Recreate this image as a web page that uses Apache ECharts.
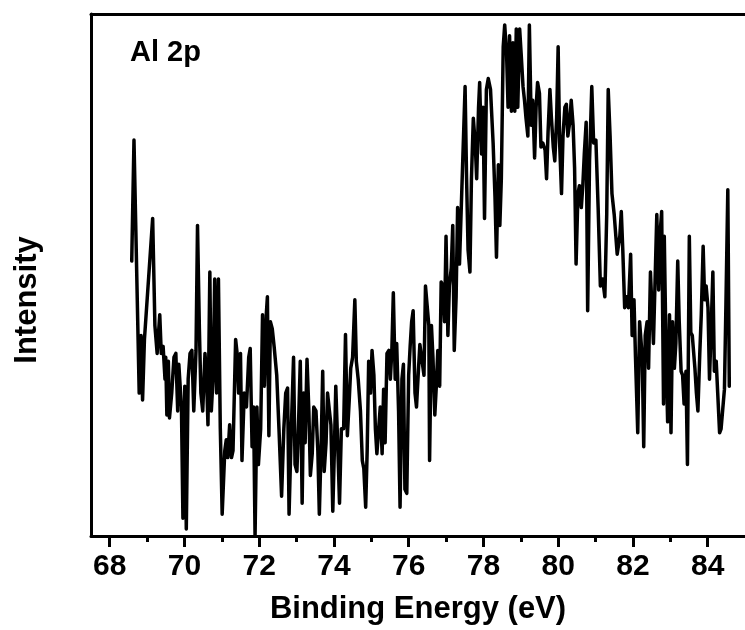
<!DOCTYPE html>
<html><head><meta charset="utf-8">
<script src="https://cdn.jsdelivr.net/npm/echarts@6/dist/echarts.min.js"></script>
<style>html,body{margin:0;padding:0;background:#fff}#c{width:745px;height:630px}</style>
</head><body><div id="c"></div>
<script>
// Binding energy (eV)
const energy = [
68.59,68.65,68.79,68.84,68.88,68.93,69.15,69.21,69.27,69.34,69.38,69.43,69.48,69.50,69.53,69.57,69.60,69.66,69.72,69.77,
69.82,69.85,69.89,69.92,69.96,70.01,70.05,70.10,70.15,70.20,70.25,70.31,70.35,70.40,70.44,70.49,70.55,70.59,70.63,70.68,
70.72,70.77,70.81,70.86,70.91,70.96,71.01,71.08,71.12,71.16,71.21,71.26,71.30,71.37,71.41,71.45,71.50,71.54,71.60,71.66,
71.72,71.76,
71.81,71.85,71.89,71.94,71.98,72.04,72.09,72.14,72.19,72.22,
72.26,72.30,72.35,72.40,72.47,72.53,72.60,72.66,72.71,72.76,
72.80,72.86,72.92,72.96,73.01,73.06,73.10,73.15,73.19,73.23,
73.28,73.33,73.37,73.42,73.46,73.52,73.57,73.61,73.66,73.70,
73.74,73.79,73.83,73.88,73.92,73.97,74.01,74.05,74.10,74.15,
74.20,74.26,74.31,74.36,74.41,74.45,74.50,74.56,74.60,74.65,
74.71,74.76,74.80,74.85,74.89,74.93,74.98,75.02,75.07,75.11,
75.15,75.20,75.24,75.29,75.33,75.37,75.42,75.47,75.51,75.55,
75.59,75.64,75.68,75.73,75.77,75.82,75.86,75.90,75.95,76.00,
76.04,76.08,76.12,76.17,76.21,76.26,76.30,76.35,76.41,76.45,
76.54,76.56,76.61,76.65,76.70,76.74,76.78,76.83,76.87,76.92,
76.96,77.00,77.05,77.09,77.14,77.18,77.22,77.27,77.31,77.36,
77.40,77.51,77.55,77.59,77.64,77.68,77.73,77.78,77.82,77.87,
77.90,77.95,77.99,78.03,78.08,78.13,78.19,78.26,78.31,78.35,
78.40,78.44,78.48,78.53,78.57,78.62,78.66,78.70,78.75,78.79,
78.84,78.88,78.92,78.97,79.01,79.06,79.10,79.14,79.19,79.23,
79.28,79.32,79.37,79.41,79.45,79.50,79.54,79.59,79.65,79.69,
79.73,79.78,79.82,79.87,79.91,79.96,80.00,80.04,80.09,80.13,
80.18,80.22,80.26,80.31,80.35,80.40,80.44,
80.48,80.53,80.57,80.62,80.66,80.70,80.75,80.79,80.84,80.90,
80.95,81.01,81.07,81.13,81.19,81.25,81.30,81.34,81.39,81.44,
81.50,81.54,81.58,81.65,81.69,81.73,81.78,81.83,81.88,81.94,
81.98,82.03,82.07,82.13,82.18,82.25,82.29,82.33,82.38,82.42,
82.47,82.51,82.55,82.64,82.69,82.73,82.77,82.82,82.84,82.89,
82.93,82.98,83.02,83.06,83.11,83.15,83.20,83.24,83.29,83.33,
83.37,83.42,83.46,83.51,83.55,83.59,83.66,83.70,83.74,83.79,
83.83,83.88,83.92,83.96,84.01,84.05,84.10,84.14,84.18,84.23,
84.27,84.32,84.36,84.45,84.49,84.54,84.58
];
// Intensity (a.u.)
const intensity = [
277,399,144,202,137,198,320,212,184,223,184,191,158,180,122,176,119,144,180,184,
126,173,173,130,18,151,7,158,184,187,126,187,313,209,144,126,184,162,112,266,
126,162,259,144,259,108,22,86,97,79,112,79,86,198,184,144,184,76,144,130,
180,189,
90,130,0,130,72,108,223,151,223,241,
101,216,209,191,162,108,40,108,144,149,
22,108,180,72,65,122,176,33,144,94,
178,126,61,83,130,126,86,22,94,166,
65,94,144,126,112,25,83,151,94,33,
108,108,203,101,137,169,180,238,176,158,
126,76,68,29,86,176,144,187,162,108,
83,83,130,83,148,94,184,187,158,187,
245,158,194,126,29,158,173,47,43,162,
191,216,227,144,130,166,193,194,162,252,
212,76,212,180,122,151,187,151,256,252,
216,302,202,252,270,313,187,241,331,274,
274,453,360,288,266,360,421,396,360,432,
457,385,432,320,450,461,450,396,342,281,
374,313,360,493,515,486,432,504,428,497,
428,511,432,511,486,453,439,421,403,515,
414,439,381,432,457,446,392,396,389,360,
407,450,421,392,378,421,493,396,345,403,
432,435,403,417,439,414,371,
274,345,353,331,353,385,417,227,378,453,
396,399,331,252,259,241,324,450,403,345,
324,324,284,302,327,288,230,241,230,284,
202,238,180,104,216,180,90,202,216,169,
266,230,194,324,248,306,327,133,302,180,
115,223,104,216,169,194,277,216,166,162,
133,166,72,302,205,202,169,144,126,184,
223,292,238,252,230,158,216,266,166,176,
144,104,108,148,234,349,151
];
const majorTicks = [68,70,72,74,76,78,80,82,84];
const minorTicks = [69,71,73,75,77,79,81,83];
const xTitle = 'Binding Energy (eV)';
const yTitle = 'Intensity';
const panelLabel = 'Al 2p';

const FONT = '"Liberation Sans", Arial, Helvetica, sans-serif';
const data = energy.map((e, i) => [e, intensity[i]]);
const XMIN = 67.5, XMAX = 85;

const chart = echarts.init(document.getElementById('c'), null, {renderer: 'canvas'});
chart.setOption({
  animation: false,
  backgroundColor: '#fff',
  grid: {left: 91, top: 14, width: 662, height: 526, containLabel: false},
  xAxis: [
    {
      type: 'value', position: 'bottom', min: XMIN, max: XMAX,
      axisLine: {show: true, onZero: false, lineStyle: {color: '#000', width: 3}},
      axisTick: {show: true, inside: false, length: 11, customValues: majorTicks, lineStyle: {color: '#000', width: 3}},
      axisLabel: {show: true, customValues: majorTicks, margin: 16, color: '#000', fontSize: 30, fontWeight: 'bold', fontFamily: FONT},
      splitLine: {show: false},
      name: xTitle, nameLocation: 'middle', nameGap: 58,
      nameTextStyle: {color: '#000', fontSize: 31, fontWeight: 'bold', fontFamily: FONT}
    },
    {
      type: 'value', position: 'bottom', min: XMIN, max: XMAX,
      axisLine: {show: false, onZero: false},
      axisTick: {show: true, inside: false, length: 6, customValues: minorTicks, lineStyle: {color: '#000', width: 3}},
      axisLabel: {show: false},
      splitLine: {show: false}
    },
    {
      type: 'value', position: 'top', min: XMIN, max: XMAX,
      axisLine: {show: true, onZero: false, lineStyle: {color: '#000', width: 3}},
      axisTick: {show: false}, axisLabel: {show: false}, splitLine: {show: false}
    }
  ],
  yAxis: {
    type: 'value', min: 0, max: 526,
    axisLine: {show: true, onZero: false, lineStyle: {color: '#000', width: 3}},
    axisTick: {show: false}, axisLabel: {show: false}, splitLine: {show: false}
  },
  graphic: [
    {type: 'text', x: 130, y: 38, style: {text: panelLabel, fill: '#000', font: 'bold 29px ' + FONT, verticalAlign: 'top', align: 'left'}},
    {type: 'text', x: 27, y: 300, rotation: Math.PI / 2, style: {text: yTitle, fill: '#000', font: 'bold 31px ' + FONT, verticalAlign: 'middle', align: 'center'}}
  ],
  series: [{
    type: 'line', xAxisIndex: 0, yAxisIndex: 0, data: data,
    showSymbol: false, symbol: 'none',
    lineStyle: {color: '#000', width: 3.5, join: 'round', cap: 'round'}
  }]
});
</script>
</body></html>
